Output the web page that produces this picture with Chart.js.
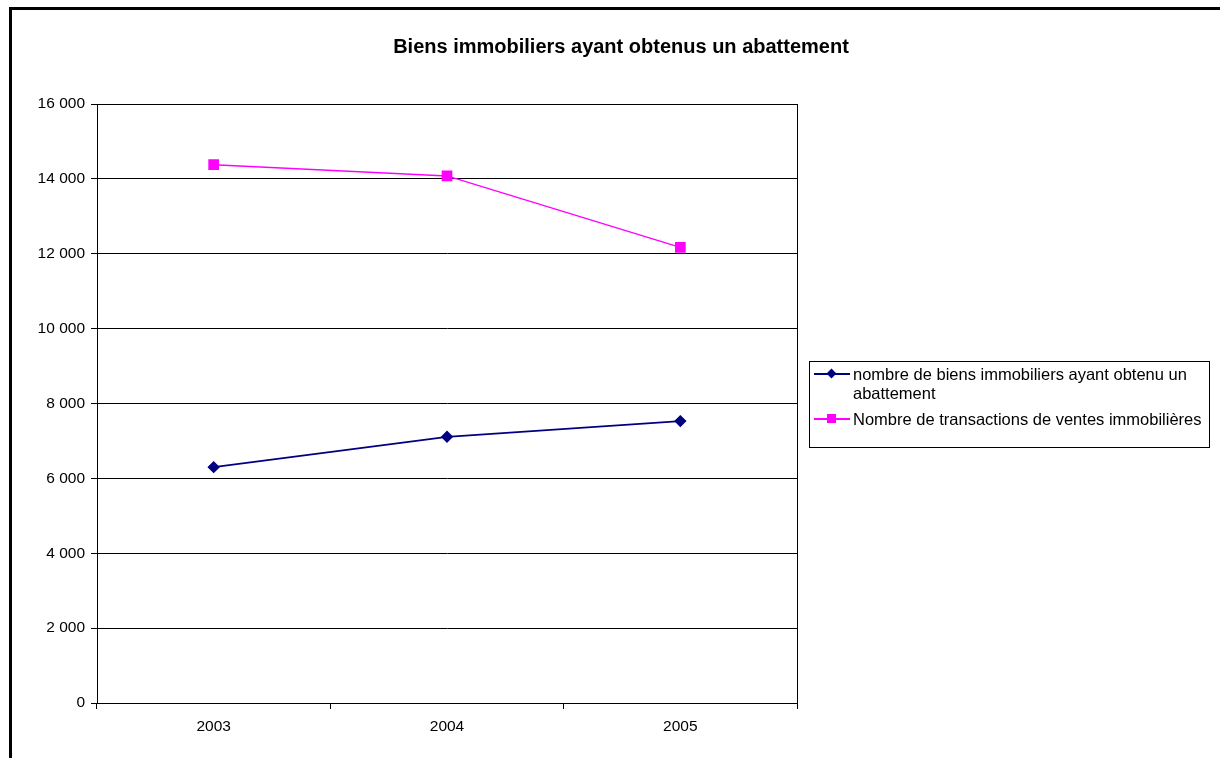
<!DOCTYPE html>
<html lang="fr">
<head>
<meta charset="utf-8">
<title>Biens immobiliers ayant obtenus un abattement</title>
<script src="https://cdn.jsdelivr.net/npm/chart.js@4/dist/chart.umd.min.js"></script>
<style>
    html, body {
        margin: 0;
        padding: 0;
        background: #fff;
        overflow: hidden;
    }
    #frame {
        position: absolute;
        left: 9px;
        top: 7px;
        width: 1400px;
        height: 1000px;
        border-left: 3px solid #000;
        border-top: 3px solid #000;
    }
    #chart-title {
        position: absolute;
        left: 0;
        width: 1242px;
        top: 35px;
        text-align: center;
        font: bold 20px "Liberation Sans", Arial, sans-serif;
        line-height: 23px;
        color: #000;
    }
    #chart-wrap {
        position: absolute;
        left: 0;
        top: 0;
        width: 1220px;
        height: 758px;
    }
    #legend {
        position: absolute;
        left: 809px;
        top: 361px;
        width: 401px;
        height: 87px;
        border: 1px solid #000;
        box-sizing: border-box;
        font: 16.5px "Liberation Sans", Arial, sans-serif;
        color: #000;
    }
    .legend-item {
        position: absolute;
        left: 4px;
        display: flex;
        align-items: flex-start;
    }
    .legend-mark {
        position: relative;
        width: 36px;
        height: 18px;
        flex: none;
    }
    .legend-mark .line {
        position: absolute;
        left: 0;
        right: 0;
        top: 8px;
        height: 2px;
    }
    .legend-mark .dot {
        position: absolute;
    }
    .legend-text {
        margin-left: 3px;
        line-height: 18.5px;
    }
</style>
</head>
<body>
<div id="frame"></div>
<div id="chart-wrap"><canvas id="chart" width="1220" height="758"></canvas></div>
<div id="chart-title">Biens immobiliers ayant obtenus un abattement</div>
<div id="legend"></div>

<script>
// Years on the x axis
const years = ['2003', '2004', '2005'];

// Series
const biensAbattement = [6300, 7110, 7530];
const transactionsVentes = [14380, 14080, 12170];

const seriesNames = [
    'nombre de biens immobiliers ayant obtenu un abattement',
    'Nombre de transactions de ventes immobilières'
];

const yMax = 16000;
const yStep = 2000;

const navy = '#000080';
const magenta = '#ff00ff';

// thousands with a plain space, e.g. 16 000
function formatFr(v) {
    return String(v).replace(/\B(?=(\d{3})+(?!\d))/g, ' ');
}

// box around the plot area
const plotBorder = {
    id: 'plotBorder',
    beforeDatasetsDraw(chart) {
        const a = chart.chartArea;
        const ctx = chart.ctx;
        ctx.save();
        ctx.strokeStyle = '#000';
        ctx.lineWidth = 1;
        ctx.strokeRect(Math.round(a.left) + 0.5, Math.round(a.top) + 0.5,
            Math.round(a.right - a.left), Math.round(a.bottom - a.top));
        ctx.restore();
    }
};

Chart.defaults.font.family = '"Liberation Sans", Arial, sans-serif';
Chart.defaults.color = '#000';

const chart = new Chart(document.getElementById('chart'), {
    type: 'line',
    data: {
        labels: years,
        datasets: [{
            label: seriesNames[0],
            data: biensAbattement,
            borderColor: navy,
            backgroundColor: navy,
            borderWidth: 1.7,
            pointStyle: 'rectRot',
            pointRadius: 5,
            pointHoverRadius: 5,
            tension: 0
        }, {
            label: seriesNames[1],
            data: transactionsVentes,
            borderColor: magenta,
            backgroundColor: magenta,
            borderWidth: 1.5,
            pointStyle: 'rect',
            pointRadius: 6.5,
            pointHoverRadius: 6.5,
            tension: 0
        }]
    },
    options: {
        responsive: false,
        animation: false,
        events: [],
        layout: {
            padding: { top: 104, left: 0, right: 423, bottom: 0 }
        },
        plugins: {
            legend: { display: false },
            title: { display: false },
            tooltip: { enabled: false }
        },
        scales: {
            x: {
                offset: true,
                grid: {
                    offset: true,
                    drawOnChartArea: false,
                    drawTicks: true,
                    tickLength: 6,
                    color: '#000'
                },
                border: { display: true, color: '#000', width: 1 },
                ticks: {
                    font: { size: 15.5 },
                    padding: 8,
                    maxRotation: 0
                },
                afterFit(scale) { scale.height = 55; }
            },
            y: {
                min: 0,
                max: yMax,
                grid: {
                    color: '#000',
                    lineWidth: 1,
                    drawTicks: true,
                    tickLength: 6,
                },
                border: { display: true, color: '#000', width: 1 },
                ticks: {
                    stepSize: yStep,
                    font: { size: 15.5 },
                    padding: 6,
                    callback: v => formatFr(v)
                },
                afterFit(scale) { scale.width = 97; }
            }
        }
    },
    plugins: [plotBorder]
});

// HTML legend with the wrapped first label
function buildLegend() {
    const legend = document.getElementById('legend');
    const items = [
        { text: 'nombre de biens immobiliers ayant obtenu un<br>abattement', color: navy, shape: 'diamond', top: 3 },
        { text: seriesNames[1], color: magenta, shape: 'square', top: 48 }
    ];
    legend.innerHTML = items.map(item => {
        const dotStyle = item.shape === 'diamond'
            ? `background:${item.color}; transform: rotate(45deg); width:7px; height:7px; left:14px; top:5px;`
            : `background:${item.color}; width:9px; height:9px; left:13px; top:4px;`;
        return `
            <div class="legend-item" style="top:${item.top}px;">
                <div class="legend-mark">
                    <div class="line" style="background:${item.color};"></div>
                    <div class="dot" style="${dotStyle}"></div>
                </div>
                <div class="legend-text">${item.text}</div>
            </div>
        `;
    }).join('');
}

buildLegend();
</script>
</body>
</html>
